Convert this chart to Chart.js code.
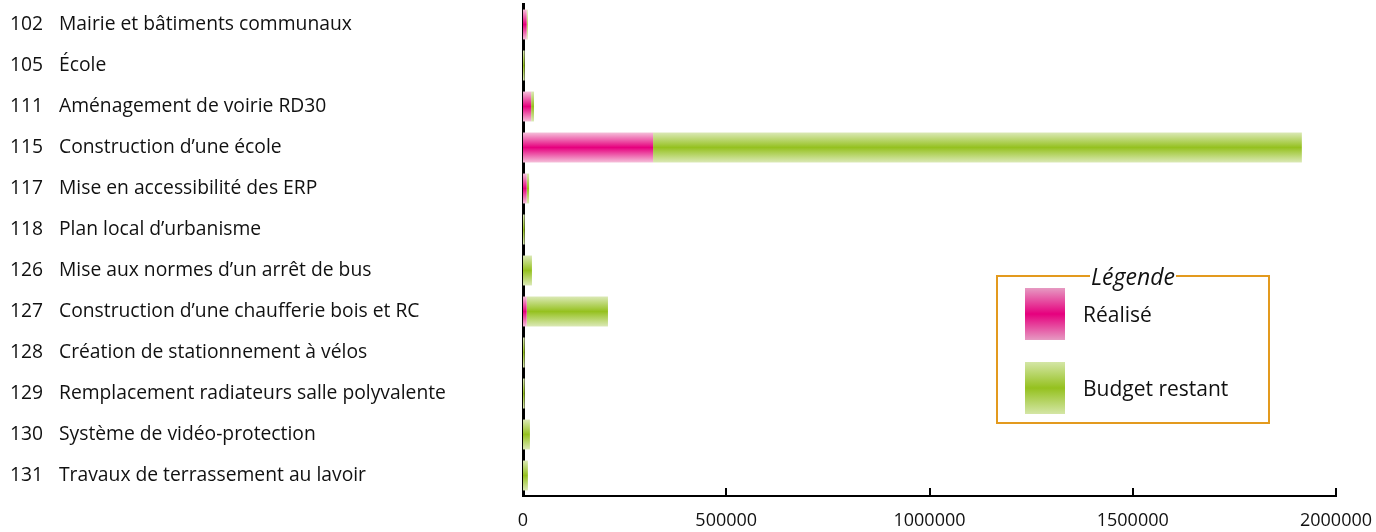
<!DOCTYPE html>
<html lang="fr">
<head>
<meta charset="utf-8">
<title>Budget des opérations</title>
<script src="https://cdn.jsdelivr.net/npm/chart.js@4"></script>
<style>
  body { margin: 0; background: #fff; }
  #wrap { position: relative; width: 1376px; height: 532px; }
  #wrap canvas { position: absolute; left: 0; top: 0; }
  fieldset.legende {
    position: absolute; left: 996px; top: 263px; width: 274px; height: 161px;
    margin: 0; padding: 0; box-sizing: border-box;
    border: 2px solid #e39a1e;
    font-family: "Open Sans", sans-serif; color: #111;
  }
  fieldset.legende legend {
    margin: 0 auto; padding: 0 1px; font-style: italic; font-size: 23px; line-height: 26px;
  }
  .item { position: absolute; left: 27px; display: flex; align-items: center; font-size: 21px; }
  .item span.sw { width: 40px; height: 52px; margin-right: 18px; }
  .sw.pink { background: linear-gradient(#e69ac2, #e6007e 50%, #e69ac2); }
  .sw.green { background: linear-gradient(#d4e6a6, #95c11f 50%, #d4e6a6); }
</style>
</head>
<body>
<div id="wrap">
  <canvas id="chart" width="1376" height="532"></canvas>
  <fieldset class="legende">
    <legend>Légende</legend>
    <div class="item" style="top:-1px"><span class="sw pink"></span>Réalisé</div>
    <div class="item" style="top:73px"><span class="sw green"></span>Budget restant</div>
  </fieldset>
</div>
<script>
// données
const codes = ['102', '105', '111', '115', '117', '118', '126', '127', '128', '129', '130', '131'];
const names = [
  'Mairie et bâtiments communaux',
  'École',
  'Aménagement de voirie RD30',
  'Construction d\u2019une école',
  'Mise en accessibilité des ERP',
  'Plan local d\u2019urbanisme',
  'Mise aux normes d\u2019un arrêt de bus',
  'Construction d\u2019une chaufferie bois et RC',
  'Création de stationnement à vélos',
  'Remplacement radiateurs salle polyvalente',
  'Système de vidéo-protection',
  'Travaux de terrassement au lavoir'
];
const realise = [9000, 0, 20000, 320000, 9000, 0, 0, 9000, 0, 0, 0, 0];
const restant = [2500, 4000, 7000, 1596000, 6000, 4000, 22000, 200000, 4000, 4000, 17000, 12000];
const xTicks = [0, 500000, 1000000, 1500000, 2000000];

const BAR_PCT = 0.73;
const FONT = '"Open Sans", sans-serif';

// dégradé vertical pour chaque barre
function barFill(edge, mid) {
  return function(ctx) {
    if (ctx.type !== 'data') return mid;
    const y = ctx.chart.scales.y;
    if (!y) return mid;
    const yc = y.getPixelForValue(ctx.dataIndex);
    const h = y.height / names.length * BAR_PCT;
    if (!isFinite(yc) || !isFinite(h) || h <= 0) return mid;
    const g = ctx.chart.ctx.createLinearGradient(0, yc - h / 2, 0, yc + h / 2);
    g.addColorStop(0, edge);
    g.addColorStop(0.5, mid);
    g.addColorStop(1, edge);
    return g;
  };
}

// libellés à gauche (code + nom) et petites graduations vers l'intérieur
const decor = {
  id: 'decor',
  afterDraw(chart) {
    const c = chart.ctx;
    const y = chart.scales.y;
    const x = chart.scales.x;
    c.save();
    c.fillStyle = '#111';
    c.font = '19.3px ' + FONT;
    c.textBaseline = 'middle';
    c.textAlign = 'left';
    names.forEach((n, i) => {
      const py = y.getPixelForValue(i);
      c.fillText(codes[i], 10, py);
      c.fillText(n, 59, py);
    });
    c.strokeStyle = '#000';
    c.lineWidth = 2;
    xTicks.forEach(v => {
      if (v === 0) return;
      const px = Math.round(x.getPixelForValue(v));
      c.beginPath();
      c.moveTo(px, chart.chartArea.bottom);
      c.lineTo(px, chart.chartArea.bottom - 8);
      c.stroke();
    });
    c.restore();
  }
};

new Chart(document.getElementById('chart'), {
  type: 'bar',
  data: {
    labels: codes,
    datasets: [{
      label: 'Réalisé',
      data: realise,
      backgroundColor: barFill('#f5c0da', '#e6007e'),
      borderWidth: 0
    }, {
      label: 'Budget restant',
      data: restant,
      backgroundColor: barFill('#dbe9b6', '#95c11f'),
      borderWidth: 0
    }]
  },
  options: {
    indexAxis: 'y',
    responsive: false,
    animation: false,
    layout: { padding: { left: 10, right: 40, top: 4, bottom: 0 } },
    datasets: { bar: { categoryPercentage: BAR_PCT, barPercentage: 1 } },
    scales: {
      x: {
        stacked: true,
        min: 0,
        max: 2000000,
        grid: { display: false, drawTicks: false, tickLength: 0 },
        border: { display: true, color: '#000', width: 2 },
        afterBuildTicks(scale) { scale.ticks = xTicks.map(v => ({ value: v })); },
        afterFit(scale) {
          scale.height = 36;
          scale.paddingLeft = 0;
          scale.paddingRight = 0;
        },
        ticks: {
          color: '#111',
          font: { family: FONT, size: 18 },
          padding: 14,
          callback: v => String(v)
        }
      },
      y: {
        stacked: true,
        grid: { display: false },
        border: { display: true, color: '#000', width: 3 },
        ticks: { display: false },
        afterFit(scale) { scale.width = 513; }
      }
    },
    plugins: {
      legend: { display: false },
      tooltip: { enabled: false }
    }
  },
  plugins: [decor]
});
</script>
</body>
</html>
